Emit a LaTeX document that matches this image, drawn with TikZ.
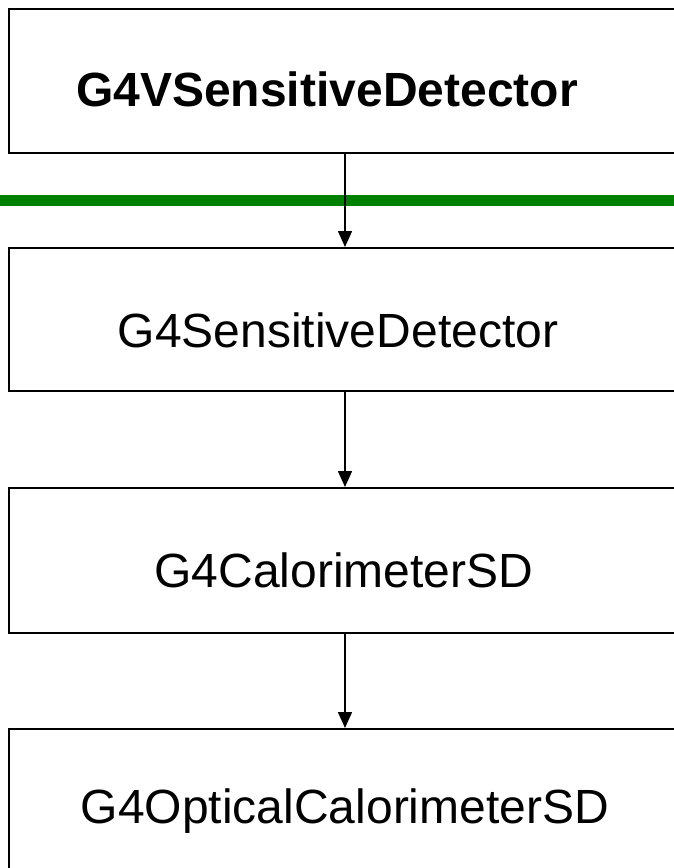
\documentclass[tikz,border=0pt]{standalone}
\usepackage{fontspec}
\setmainfont{Liberation Sans}
\usetikzlibrary{arrows.meta}
\begin{document}
\begin{tikzpicture}[x=1pt,y=-1pt,
  box/.style={draw=black,line width=2pt,minimum width=674pt,minimum height=144pt,inner sep=0pt,anchor=north west},
  lbl/.style={font=\fontsize{48}{56}\selectfont,inner sep=0pt,anchor=base},
  conn/.style={line width=1.6pt,-{Triangle[length=16pt,width=14pt]}}]
\useasboundingbox (0,0) rectangle (674,868);
\clip (0,0) rectangle (674,868);
\fill[white] (0,0) rectangle (674,868);
\node[box] (b1) at (8,8) {};
\node[box,minimum height=143pt] (b2) at (8,247) {};
\node[box,minimum height=145pt] (b3) at (8,487) {};
\node[box] (b4) at (8,728) {};
\node[lbl,font=\fontsize{48}{56}\selectfont\bfseries] (t1) at (327,106) {G4VSensitiveDetector};
\node[lbl] (t2) at (338,347) {G4SensitiveDetector};
\node[lbl] (t3) at (344,587) {G4CalorimeterSD};
\node[lbl] (t4) at (345,823) {G4OpticalCalorimeterSD};
\draw[line width=11pt,draw={rgb,255:red,0;green,128;blue,0}] (0,200) -- (674,200);
\draw[conn] (b1.south -| 345,0) -- (b2.north -| 345,0);
\draw[conn] (b2.south -| 345,0) -- (b3.north -| 345,0);
\draw[conn] (b3.south -| 345,0) -- (b4.north -| 345,0);
\end{tikzpicture}
\end{document}
